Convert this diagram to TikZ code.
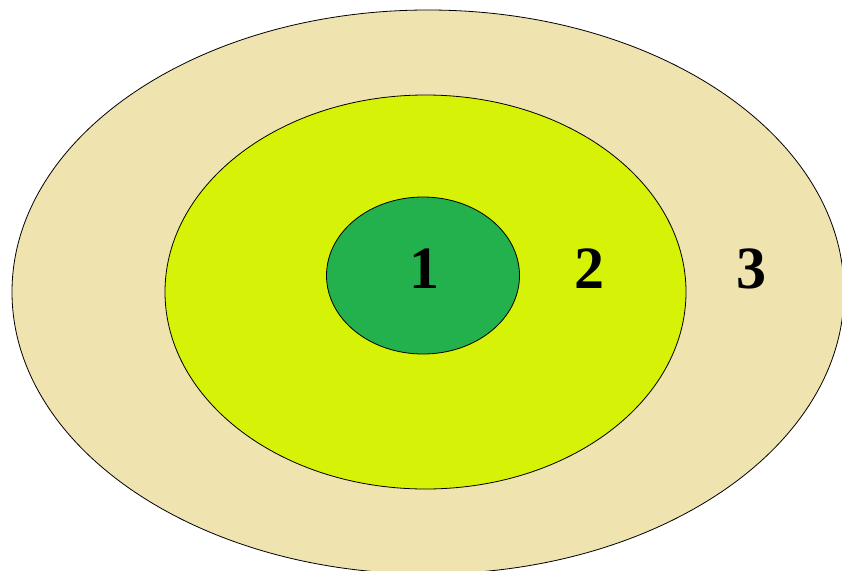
\documentclass[tikz,border=0pt]{standalone}
\usepackage{fontspec}
\setmainfont{Liberation Serif}
\usetikzlibrary{shapes.geometric}
\definecolor{ringout}{HTML}{EFE3B0}
\definecolor{ringmid}{HTML}{D6F207}
\definecolor{ringin}{HTML}{22B14C}
\tikzset{
  zone/.style={ellipse, draw=black, line width=0.8pt, inner sep=0pt},
  zlbl/.style={font=\fontsize{60}{60}\selectfont\bfseries, text=black, inner sep=0pt},
}

\begin{document}
\begin{tikzpicture}[x=1pt,y=-1pt]
  \useasboundingbox (0,0) rectangle (842,570);
  \clip (0,0) rectangle (842,570);
  \node[zone, fill=ringout, minimum width=832pt, minimum height=564pt] (outer) at (428,292) {};
  \node[zone, fill=ringmid, minimum width=521pt, minimum height=394pt] (middle) at (425.5,292) {};
  \node[zone, fill=ringin, minimum width=193pt, minimum height=157pt] (inner) at (423,275.5) {};
  \node[zlbl] (one) at (424,269) {1};
  \node[zlbl] (two) at (589,269) {2};
  \node[zlbl] (three) at (751,269) {3};
\end{tikzpicture}
\end{document}
